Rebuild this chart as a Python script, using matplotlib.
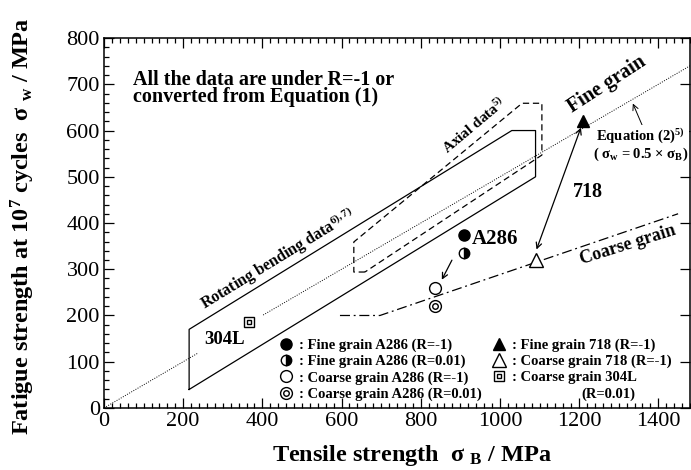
import matplotlib.pyplot as plt
from matplotlib.lines import Line2D
from matplotlib.ticker import MultipleLocator
from matplotlib.legend_handler import HandlerTuple

plt.rcParams["font.family"] = ["Liberation Serif", "DejaVu Serif"]
plt.rcParams["font.weight"] = "bold"
plt.rcParams["mathtext.fontset"] = "custom"
plt.rcParams["mathtext.rm"] = "Liberation Serif:bold"
plt.rcParams["mathtext.it"] = "Liberation Serif:italic:bold"
plt.rcParams["mathtext.bf"] = "Liberation Serif:bold"

# data points (tensile strength, fatigue strength) in MPa
a286_fine_r1 = [910, 375]
a286_fine_r001 = [910, 335]
a286_coarse_r1 = [835, 260]
a286_coarse_r001 = [835, 220]
in718_fine = [1210, 620]
in718_coarse = [1090, 320]
ss304l_coarse = [365, 185]

# scatter bands from literature
rot_x = [215, 215, 1030, 1090, 1090, 215]
rot_y = [40, 170, 600, 600, 500, 40]
axial_x = [659, 631, 631, 1056, 1106, 1106, 659]
axial_y = [294, 294, 359, 659, 659, 547, 294]

# coarse grain trend and equation (2) line (broken around the 304L label)
coarse_x = [596, 697, 1450]
coarse_y = [200, 200, 420]
eq_x = [0, 238, 402, 1480]
eq_y = [0, 119, 201, 740]

fig = plt.figure(figsize=(6.91, 4.70), dpi=100)
ax = fig.add_axes([0.1505, 0.132, 0.848, 0.787])

eq_style = dict(color="k", lw=0.7, ls=(0, (1, 1.5)), zorder=1)
ax.plot(eq_x[:2], eq_y[:2], **eq_style)
ax.plot(eq_x[2:], eq_y[2:], **eq_style)
ax.plot(rot_x, rot_y, color="k", lw=0.9, zorder=2)
ax.plot(axial_x, axial_y, color="k", lw=0.9, ls=(0, (5, 3)), zorder=2)
ax.plot(coarse_x, coarse_y, color="k", lw=0.9, ls=(0, (8, 3, 1.5, 3)), zorder=2)

ms = 8
ax.plot(*a286_fine_r1, "o", color="k", ms=ms, zorder=4)
ax.plot(*a286_fine_r001, "o", fillstyle="right", mfc="k", markerfacecoloralt="w",
        mec="k", ms=ms - 0.5, zorder=4)
ax.plot(*a286_coarse_r1, "o", mfc="w", mec="k", ms=ms + 0.5, zorder=4)
ax.plot(*a286_coarse_r001, "o", mfc="w", mec="k", ms=ms + 0.5, zorder=4)
ax.plot(*a286_coarse_r001, "o", mfc="w", mec="k", ms=4, zorder=5)
ax.plot(*in718_fine, "^", color="k", ms=ms + 1, zorder=4)
ax.plot(*in718_coarse, "^", mfc="w", mec="k", ms=ms + 1.5, zorder=4)
ax.plot(*ss304l_coarse, "s", mfc="w", mec="k", ms=ms - 1, zorder=4)
ax.plot(*ss304l_coarse, "s", mfc="w", mec="k", ms=3.5, zorder=5)

# arrows
ax.annotate("", xy=(1090, 337), xytext=(1207, 612),
            arrowprops=dict(arrowstyle="<->", lw=0.9, color="k"), zorder=3)
ax.annotate("", xy=(850, 272), xytext=(882, 325),
            arrowprops=dict(arrowstyle="->", lw=0.9, color="k"))
ax.annotate("", xy=(1333, 664), xytext=(1362, 606),
            arrowprops=dict(arrowstyle="->", lw=0.7, color="k"))

# texts
ax.text(73, 692, "All the data are under R=-1 or\nconverted from Equation (1)",
        fontsize=14.5, ha="left", va="center", linespacing=0.8)
ax.text(440, 322, "Rotating bending data$^{6),7)}$", fontsize=11.5,
        rotation=31.5, ha="center", va="center")
ax.text(935, 612, "Axial data$^{5)}$", fontsize=11, rotation=40,
        ha="center", va="center")
ax.text(1270, 700, "Fine grain", fontsize=14.5, rotation=33, ha="center", va="center")
ax.text(1322, 352, "Coarse grain", fontsize=13, rotation=17.5,
        ha="center", va="center")
ax.text(1355, 570, "Equation (2)$^{5)}$\n( σ$_\\mathrm{w}$ = 0.5 × σ$_\\mathrm{B}$)",
        fontsize=10.5, ha="center", va="center", linespacing=1.05,
        bbox=dict(fc="w", ec="none", pad=0.5))
ax.text(1222, 467, "718", fontsize=14.5, ha="center", va="center")
ax.text(929, 365, "A286", fontsize=15, ha="left", va="center")
ax.text(305, 147, "304L", fontsize=13.5, ha="center", va="center")

# legend
h1 = Line2D([], [], ls="none", marker="o", color="k", ms=ms)
h2 = Line2D([], [], ls="none", marker="o", fillstyle="right", mfc="k",
            markerfacecoloralt="w", mec="k", ms=ms - 0.5)
h3 = Line2D([], [], ls="none", marker="o", mfc="w", mec="k", ms=ms + 0.5)
h4a = Line2D([], [], ls="none", marker="o", mfc="w", mec="k", ms=ms + 0.5)
h4b = Line2D([], [], ls="none", marker="o", mfc="w", mec="k", ms=4)
h5 = Line2D([], [], ls="none", marker="^", color="k", ms=ms + 1)
h6 = Line2D([], [], ls="none", marker="^", mfc="w", mec="k", ms=ms + 1.5)
h7a = Line2D([], [], ls="none", marker="s", mfc="w", mec="k", ms=ms - 1)
h7b = Line2D([], [], ls="none", marker="s", mfc="w", mec="k", ms=3.5)
handles = [h1, h2, h3, (h4a, h4b), h5, h6, (h7a, h7b)]
labels = [": Fine grain A286 (R=-1)", ": Fine grain A286 (R=0.01)",
          ": Coarse grain A286 (R=-1)", ": Coarse grain A286 (R=0.01)",
          ": Fine grain 718 (R=-1)", ": Coarse grain 718 (R=-1)",
          ": Coarse grain 304L"]
ax.legend(handles, labels, ncol=2, loc="lower left", bbox_to_anchor=(437, 15),
          bbox_transform=ax.transData, frameon=False, fontsize=10.5,
          handlelength=1.2, handletextpad=0.3, labelspacing=0.2,
          columnspacing=0.6, borderpad=0, borderaxespad=0,
          handler_map={tuple: HandlerTuple(ndivide=1)})
ax.text(1273, 30, "(R=0.01)", fontsize=10.5, ha="center", va="center")

ax.set_xlim(0, 1480)
ax.set_ylim(0, 800)
ax.xaxis.set_major_locator(MultipleLocator(200))
ax.xaxis.set_minor_locator(MultipleLocator(20))
ax.yaxis.set_major_locator(MultipleLocator(100))
ax.yaxis.set_minor_locator(MultipleLocator(20))
ax.tick_params(which="both", direction="in", top=True, right=True, width=0.9)
ax.tick_params(which="major", length=7, labelsize=16, pad=3)
ax.tick_params(which="minor", length=3.5, right=False)
for lab in ax.get_xticklabels() + ax.get_yticklabels():
    lab.set_fontweight("normal")
for s in ax.spines.values():
    s.set_linewidth(1.1)

ax.set_xlabel("Tensile strength  σ $_\\mathrm{B}$ / MPa", fontsize=17.5,
              fontweight="bold")
ax.set_ylabel("Fatigue strength at 10$^7$ cycles  σ $_\\mathrm{w}$ / MPa",
              fontsize=17.5, fontweight="bold")
ax.xaxis.set_label_coords(0.526, -0.095)
ax.yaxis.set_label_coords(-0.115, 0.49)

plt.savefig("out.png", dpi=100)
